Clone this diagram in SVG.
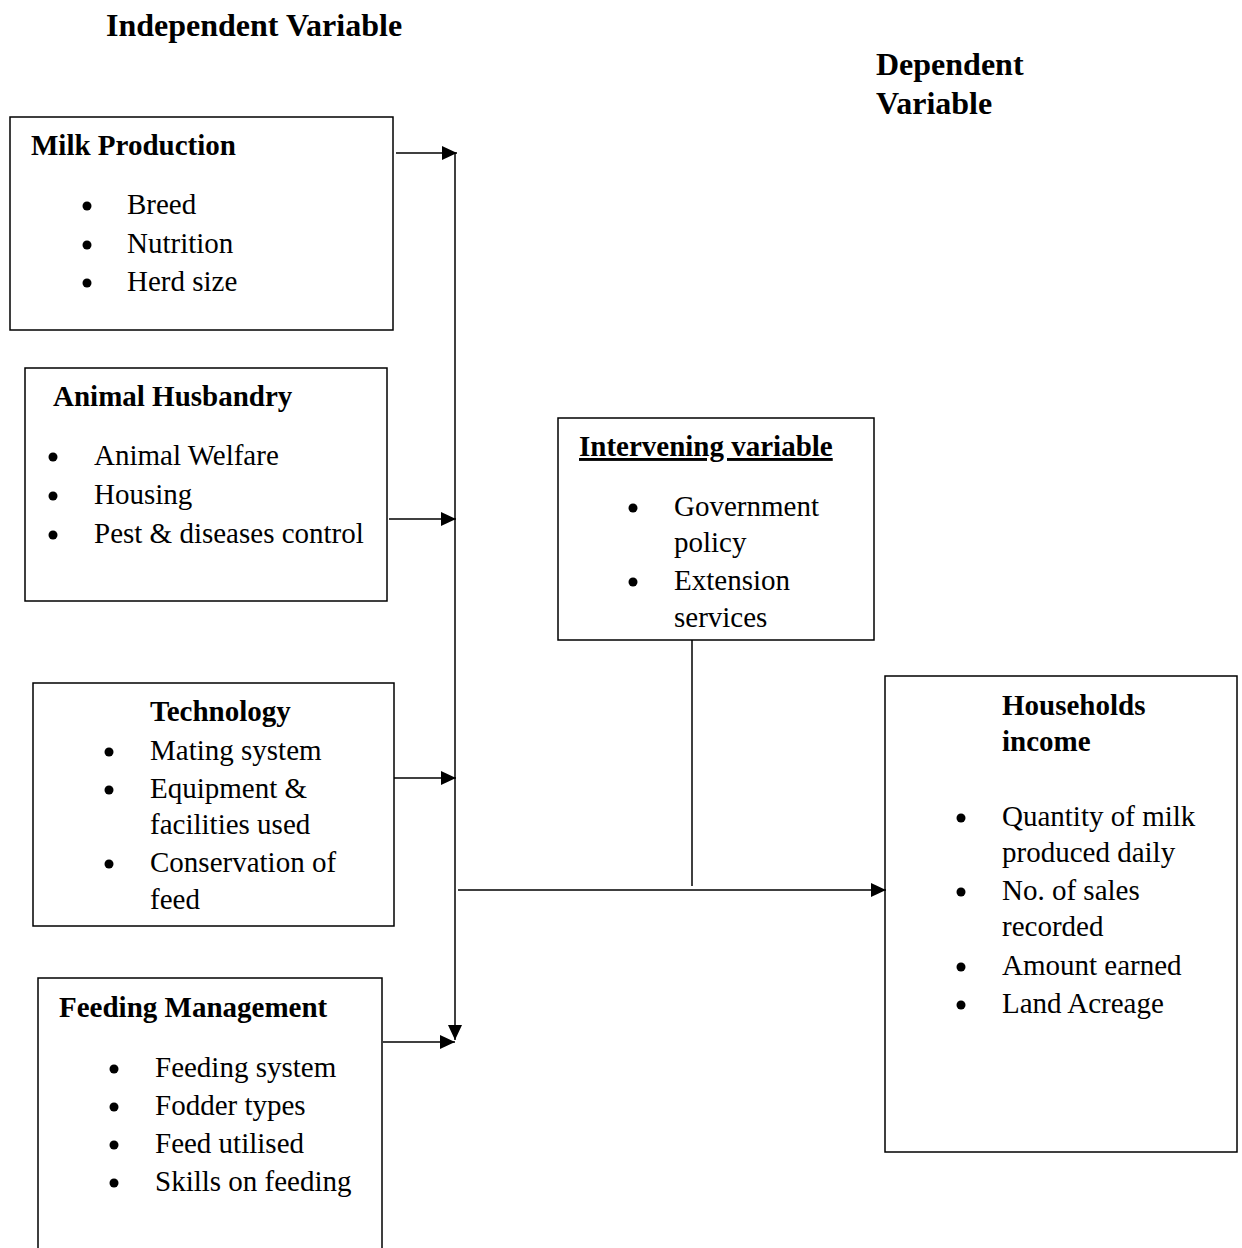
<svg xmlns="http://www.w3.org/2000/svg" width="1242" height="1248" viewBox="0 0 1242 1248">
<defs>
<style>
text{font-family:"Liberation Serif","Times New Roman",serif;font-size:29px;fill:#000}
.b{font-weight:bold}
.t{font-weight:bold;font-size:32px}
.box{fill:#fff;stroke:#000;stroke-width:1.5}
.ln{stroke:#000;stroke-width:1.5;fill:none}
circle{fill:#000}
</style>
<marker id="ah" markerWidth="15" markerHeight="14" refX="15" refY="7" orient="auto" markerUnits="userSpaceOnUse">
<path d="M0,0 L15,7 L0,14 Z" fill="#000"/>
</marker>
</defs>
<rect width="1242" height="1248" fill="#fff"/>
<text class="t" x="106" y="36">Independent Variable</text>
<text class="t" x="876" y="75">Dependent</text>
<text class="t" x="876" y="114">Variable</text>

<g id="milk">
<rect class="box" x="10" y="117" width="383" height="213"/>
<text class="b" x="31" y="155">Milk Production</text>
<circle cx="87" cy="206" r="4.5"/><text x="127" y="214">Breed</text>
<circle cx="87" cy="245" r="4.5"/><text x="127" y="253">Nutrition</text>
<circle cx="87" cy="283" r="4.5"/><text x="127" y="291">Herd size</text>
</g>

<g id="husbandry">
<rect class="box" x="25" y="368" width="362" height="233"/>
<text class="b" x="53" y="406">Animal Husbandry</text>
<circle cx="53" cy="457" r="4.5"/><text x="94" y="465">Animal Welfare</text>
<circle cx="53" cy="496" r="4.5"/><text x="94" y="504">Housing</text>
<circle cx="53" cy="535" r="4.5"/><text x="94" y="543">Pest &amp; diseases control</text>
</g>

<g id="technology">
<rect class="box" x="33" y="683" width="361" height="243"/>
<text class="b" x="150" y="721">Technology</text>
<circle cx="109" cy="752" r="4.5"/><text x="150" y="760">Mating system</text>
<circle cx="109" cy="790" r="4.5"/><text x="150" y="798">Equipment &amp;</text>
<text x="150" y="834">facilities used</text>
<circle cx="109" cy="864" r="4.5"/><text x="150" y="872">Conservation of</text>
<text x="150" y="909">feed</text>
</g>

<g id="feeding">
<rect class="box" x="38" y="978" width="344" height="290"/>
<text class="b" x="59" y="1017">Feeding Management</text>
<circle cx="114" cy="1069" r="4.5"/><text x="155" y="1077">Feeding system</text>
<circle cx="114" cy="1107" r="4.5"/><text x="155" y="1115">Fodder types</text>
<circle cx="114" cy="1145" r="4.5"/><text x="155" y="1153">Feed utilised</text>
<circle cx="114" cy="1183" r="4.5"/><text x="155" y="1191">Skills on feeding</text>
</g>

<g id="intervening">
<rect class="box" x="558" y="418" width="316" height="222"/>
<text class="b" x="579" y="456" text-decoration="underline">Intervening variable</text>
<circle cx="633" cy="508" r="4.5"/><text x="674" y="516">Government</text>
<text x="674" y="552">policy</text>
<circle cx="633" cy="582" r="4.5"/><text x="674" y="590">Extension</text>
<text x="674" y="627">services</text>
</g>

<g id="income">
<rect class="box" x="885" y="676" width="352" height="476"/>
<text class="b" x="1002" y="715">Households</text>
<text class="b" x="1002" y="751">income</text>
<circle cx="961" cy="818" r="4.5"/><text x="1002" y="826">Quantity of milk</text>
<text x="1002" y="862">produced daily</text>
<circle cx="961" cy="892" r="4.5"/><text x="1002" y="900">No. of sales</text>
<text x="1002" y="936">recorded</text>
<circle cx="961" cy="967" r="4.5"/><text x="1002" y="975">Amount earned</text>
<circle cx="961" cy="1005" r="4.5"/><text x="1002" y="1013">Land Acreage</text>
</g>

<g id="connectors">
<line class="ln" x1="396" y1="153" x2="457" y2="153" marker-end="url(#ah)"/>
<line class="ln" x1="389" y1="519" x2="456" y2="519" marker-end="url(#ah)"/>
<line class="ln" x1="394" y1="778" x2="456" y2="778" marker-end="url(#ah)"/>
<line class="ln" x1="383" y1="1042" x2="455" y2="1042" marker-end="url(#ah)"/>
<line class="ln" x1="455" y1="153" x2="455" y2="1040" marker-end="url(#ah)"/>
<line class="ln" x1="458" y1="890" x2="886" y2="890" marker-end="url(#ah)"/>
<line class="ln" x1="692" y1="640" x2="692" y2="886"/>
</g>
</svg>
